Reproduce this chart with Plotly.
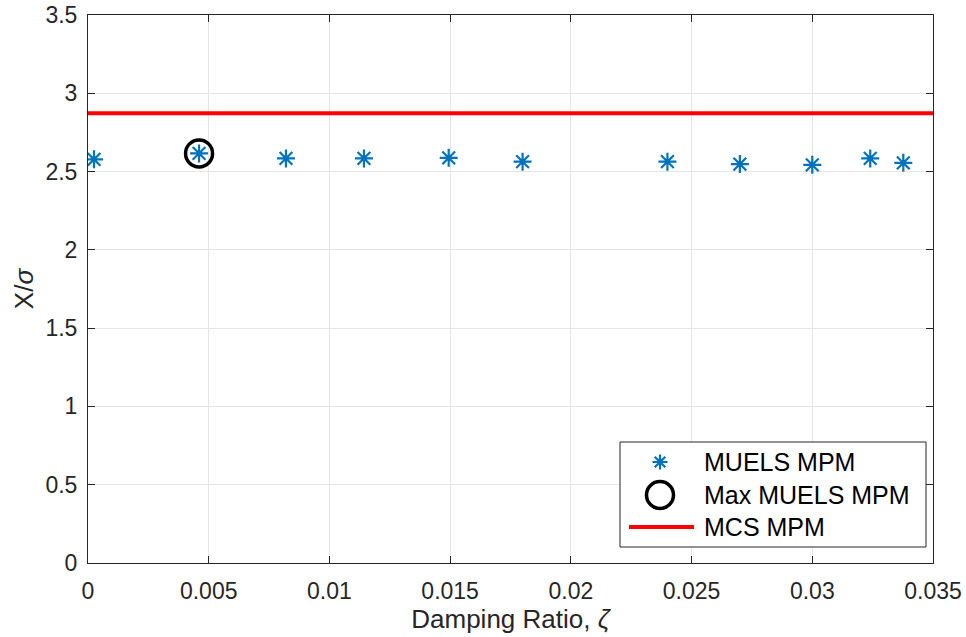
import plotly.graph_objects as go

# Damping ratios and MUELS most-probable-maximum estimates
zeta = [0.00025, 0.0046, 0.0082, 0.01143, 0.01494, 0.0180, 0.0240, 0.0270, 0.0300, 0.0324, 0.03377]
muels_mpm = [2.578, 2.616, 2.584, 2.584, 2.588, 2.563, 2.563, 2.548, 2.543, 2.584, 2.556]
mcs_mpm = 2.872
x_range = [0, 0.035]
y_range = [0, 3.5]
x_ticks = [0, 0.005, 0.01, 0.015, 0.02, 0.025, 0.03, 0.035]
x_tick_text = ["0", "0.005", "0.01", "0.015", "0.02", "0.025", "0.03", "0.035"]
y_ticks = [0, 0.5, 1, 1.5, 2, 2.5, 3, 3.5]
y_tick_text = ["0", "0.5", "1", "1.5", "2", "2.5", "3", "3.5"]
legend_labels = ["MUELS MPM", "Max MUELS MPM", "MCS MPM"]

imax = max(range(len(muels_mpm)), key=lambda i: muels_mpm[i])

blue = "#0072BD"
red = "#FF0000"
dark = "#262626"
font = "Liberation Sans, Arial, Helvetica, sans-serif"

W, H = 966, 637
ML, MR, MT, MB = 88, 33, 15, 74
PW, PH = W - ML - MR, H - MT - MB


def px(x):
    """Horizontal pixel position -> paper fraction."""
    return (x - ML) / PW


def py(y):
    """Vertical pixel position (from top) -> paper fraction."""
    return (H - MB - y) / PH


fig = go.Figure()
fig.add_trace(go.Scatter(
    x=zeta, y=muels_mpm, mode="markers", name=legend_labels[0],
    marker=dict(symbol="asterisk-open", size=15, color=blue,
                line=dict(color=blue, width=2.2)),
))
fig.add_trace(go.Scatter(
    x=[zeta[imax]], y=[muels_mpm[imax]], mode="markers", name=legend_labels[1],
    marker=dict(symbol="circle-open", size=27, color="black",
                line=dict(color="black", width=3.5)),
))
fig.add_trace(go.Scatter(
    x=x_range, y=[mcs_mpm, mcs_mpm], mode="lines", name=legend_labels[2],
    line=dict(color=red, width=4),
))

# Boxed legend in the lower-right corner (pixel layout of the key)
box_l, box_r, box_t, box_b = 620, 926, 442, 547
row_y = [462, 495, 527]
key_x = 660
text_x = 702

shapes = [
    dict(type="rect", xref="paper", yref="paper", layer="above",
         x0=px(box_l), x1=px(box_r), y0=py(box_b), y1=py(box_t),
         fillcolor="white", line=dict(color=dark, width=1)),
    # asterisk key
    dict(type="path", xref="paper", yref="paper", layer="above",
         xsizemode="pixel", ysizemode="pixel",
         xanchor=px(key_x), yanchor=py(row_y[0]),
         path="M-7.5,0L7.5,0M0,-7.5L0,7.5M-5.3,-5.3L5.3,5.3M-5.3,5.3L5.3,-5.3",
         line=dict(color=blue, width=2.2)),
    # circle key
    dict(type="circle", xref="paper", yref="paper", layer="above",
         xsizemode="pixel", ysizemode="pixel",
         xanchor=px(key_x), yanchor=py(row_y[1]),
         x0=-13.5, x1=13.5, y0=-13.5, y1=13.5,
         line=dict(color="black", width=3.5)),
    # line key
    dict(type="line", xref="paper", yref="paper", layer="above",
         x0=px(629), x1=px(694), y0=py(row_y[2]), y1=py(row_y[2]),
         line=dict(color=red, width=4)),
]

annotations = [
    dict(xref="paper", yref="paper", x=px(text_x), y=py(yy), text=lab,
         showarrow=False, xanchor="left", yanchor="middle",
         font=dict(family=font, size=25, color="black"))
    for lab, yy in zip(legend_labels, row_y)
]

axis_common = dict(
    showline=True, linecolor=dark, linewidth=1, mirror="ticks",
    ticks="inside", ticklen=7, tickcolor=dark, tickwidth=1,
    showgrid=True, gridcolor="#E5E5E5", gridwidth=1, zeroline=False,
    automargin=False,
    tickfont=dict(family=font, size=23, color=dark),
)

fig.update_layout(
    width=W, height=H,
    margin=dict(l=ML, r=MR, t=MT, b=MB),
    plot_bgcolor="white", paper_bgcolor="white",
    font=dict(family=font, color=dark),
    xaxis=dict(range=x_range, tickvals=x_ticks, ticktext=x_tick_text,
               ticklabelstandoff=7,
               title=dict(text="Damping Ratio, <i>ζ</i>", font=dict(size=26), standoff=4),
               **axis_common),
    yaxis=dict(range=y_range, tickvals=y_ticks, ticktext=y_tick_text,
               ticklabelstandoff=5,
               title=dict(text="X/<i>σ</i>", font=dict(size=26), standoff=4),
               **axis_common),
    showlegend=False,
    shapes=shapes,
    annotations=annotations,
)

fig.write_html("out.html")
